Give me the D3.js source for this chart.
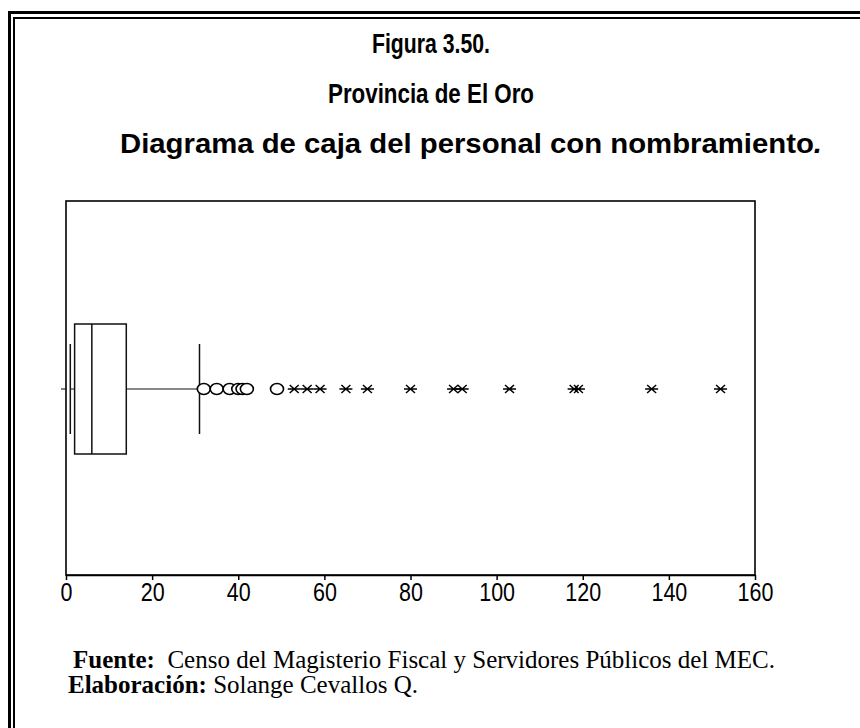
<!DOCTYPE html>
<html>
<head>
<meta charset="utf-8">
<script src="https://cdn.jsdelivr.net/npm/d3@7"></script>
<style>
  html, body { margin: 0; padding: 0; background: #fff; }
  svg { display: block; }
</style>
</head>
<body>
<svg id="chart" width="860" height="728"></svg>
<script>
// Box-plot summary of the appointed staff counts
const whiskers = [1, 31];
const quartiles = [2, 6, 14];
const mildOutliers = [32, 35, 38, 40, 41, 42, 49];
const extremeOutliers = [53, 56, 59, 65, 70, 80, 90, 92, 103, 118, 119, 136, 152];
const xTicks = [0, 20, 40, 60, 80, 100, 120, 140, 160];

// title text; the last line keeps its trailing period in italics
const titleLines = [
  ["Figura 3.50.", ""],
  ["Provincia de El Oro", ""],
  ["Diagrama de caja  del personal con nombramiento", "."]
];

const svg = d3.select("#chart");

// double border around the figure (runs off the right and bottom edges)
svg.append("rect").attr("x", 9.5).attr("y", 12.5).attr("width", 900).attr("height", 800)
  .attr("fill", "none").attr("stroke", "#000").attr("stroke-width", 3);
svg.append("rect").attr("x", 14).attr("y", 18).attr("width", 900).attr("height", 800)
  .attr("fill", "none").attr("stroke", "#000").attr("stroke-width", 2);

// titles: bold face, stretched to fixed widths
const titleY = [53, 103, 153];
const titleW = [118, 206, 702];
const titles = svg.selectAll("text.title").data(titleLines).join("text")
  .attr("class", "title")
  .attr("x", (d, i) => i === 2 ? 120 + titleW[i] / 2 : 431)
  .attr("y", (d, i) => titleY[i])
  .attr("text-anchor", "middle")
  .attr("textLength", (d, i) => titleW[i])
  .attr("lengthAdjust", "spacingAndGlyphs")
  .style("font-family", "'Liberation Sans', Arial, sans-serif")
  .style("font-weight", "bold")
  .style("font-size", "28px");
titles.append("tspan").text(d => d[0]);
titles.filter(d => d[1]).append("tspan").style("font-style", "italic").text(d => d[1]);

// plot frame
const plotLeft = 66, plotRight = 755, plotTop = 201, plotBottom = 575;
const x = d3.scaleLinear().domain([0, 160]).range([plotLeft, plotRight]);
const cy = 389;

svg.append("rect").attr("x", plotLeft).attr("y", plotTop)
  .attr("width", plotRight - plotLeft).attr("height", plotBottom - plotTop)
  .attr("fill", "none").attr("stroke", "#000").attr("stroke-width", 1.6);

// x axis
const axis = svg.append("g").attr("transform", `translate(0,${plotBottom})`)
  .call(d3.axisBottom(x).tickValues(xTicks).tickSize(5).tickSizeOuter(0).tickPadding(5));
axis.select(".domain").attr("stroke-width", 1.6);
axis.selectAll(".tick line").attr("stroke-width", 1.5);
axis.selectAll(".tick text")
  .attr("y", 0)
  .attr("dy", 0)
  .attr("transform", "translate(0,26) scale(0.86,1)")
  .style("font-family", "'Liberation Sans', Arial, sans-serif")
  .style("font-size", "25px")
  .attr("fill", "#000");

// small category tick on the left edge
svg.append("line").attr("x1", plotLeft - 5).attr("x2", plotLeft).attr("y1", cy).attr("y2", cy)
  .attr("stroke", "#000").attr("stroke-width", 1);

// box
const boxH = 130, capH = 90;
svg.append("rect")
  .attr("x", x(quartiles[0])).attr("y", cy - boxH / 2)
  .attr("width", x(quartiles[2]) - x(quartiles[0])).attr("height", boxH)
  .attr("fill", "none").attr("stroke", "#111").attr("stroke-width", 1.5);
svg.append("line")
  .attr("x1", x(quartiles[1])).attr("x2", x(quartiles[1]))
  .attr("y1", cy - boxH / 2).attr("y2", cy + boxH / 2)
  .attr("stroke", "#111").attr("stroke-width", 1.5);

// whiskers
svg.append("line").attr("x1", x(whiskers[0])).attr("x2", x(quartiles[0]))
  .attr("y1", cy).attr("y2", cy).attr("stroke", "#111").attr("stroke-width", 1);
svg.append("line").attr("x1", x(quartiles[2])).attr("x2", x(whiskers[1]))
  .attr("y1", cy).attr("y2", cy).attr("stroke", "#111").attr("stroke-width", 1);
svg.selectAll("line.cap").data(whiskers).join("line")
  .attr("class", "cap")
  .attr("x1", d => x(d)).attr("x2", d => x(d))
  .attr("y1", cy - capH / 2).attr("y2", cy + capH / 2)
  .attr("stroke", "#111").attr("stroke-width", 1.5);

// outliers: circles
svg.selectAll("ellipse.mild").data(mildOutliers).join("ellipse")
  .attr("class", "mild")
  .attr("cx", d => x(d)).attr("cy", cy)
  .attr("rx", 6.5).attr("ry", 5.5)
  .attr("fill", "#fff").attr("stroke", "#000").attr("stroke-width", 1.6);

// extreme values: asterisks
svg.selectAll("path.extreme").data(extremeOutliers).join("path")
  .attr("class", "extreme")
  .attr("transform", d => `translate(${x(d)},${cy})`)
  .attr("d", "M-4.5,-4L4.5,4M-4.5,4L4.5,-4M-6.5,0L6.5,0")
  .attr("fill", "none").attr("stroke", "#000").attr("stroke-width", 1.5);

// footer notes
const foot = svg.append("g")
  .style("font-family", "'Liberation Serif', 'Times New Roman', serif")
  .style("font-size", "25px");
const f1 = foot.append("text").attr("x", 73).attr("y", 668);
f1.append("tspan").style("font-weight", "bold").text("Fuente:");
f1.append("tspan").text("\u00a0 Censo del Magisterio Fiscal y Servidores Públicos del MEC.");
const f2 = foot.append("text").attr("x", 68).attr("y", 693);
f2.append("tspan").style("font-weight", "bold").text("Elaboración:");
f2.append("tspan").text(" Solange Cevallos Q.");
</script>
</body>
</html>
